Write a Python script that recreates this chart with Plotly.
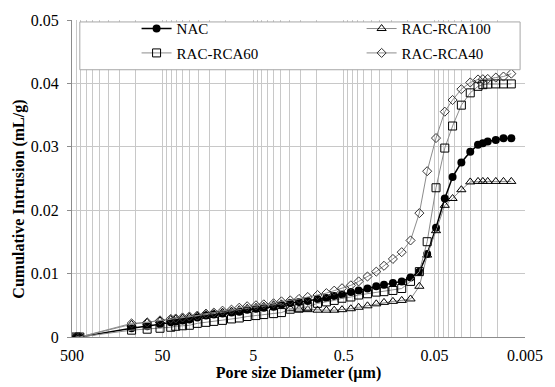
import math
import plotly.graph_objects as go

# Pore size diameter (µm)
diameter = [453, 410, 110, 74, 53.4, 40.6, 35.8, 30.1, 25.3, 20.7, 16.6, 13.6, 10.9, 8.68,
            7.12, 5.83, 4.66, 3.82, 2.98, 2.44, 1.95, 1.56, 1.25, 0.974, 0.778, 0.638, 0.523,
            0.418, 0.343, 0.274, 0.219, 0.180, 0.1435, 0.1147, 0.0917, 0.0733, 0.0601, 0.0480,
            0.0384, 0.0315, 0.0252, 0.0201, 0.0165, 0.0146, 0.0129, 0.0105, 0.00864, 0.00708]

nac = [0, 0, 0.00138, 0.00169, 0.00200, 0.00231, 0.00246, 0.00262, 0.00277, 0.00308, 0.00338,
       0.00354, 0.00369, 0.00385, 0.00400, 0.00431, 0.00446, 0.00462, 0.00477, 0.00508, 0.00538,
       0.00554, 0.00569, 0.00600, 0.00615, 0.00646, 0.00672, 0.00708, 0.00734, 0.00765, 0.00800,
       0.00826, 0.00851, 0.00877, 0.00938, 0.01031, 0.01308, 0.01723, 0.02185, 0.02523, 0.02754,
       0.02923, 0.03031, 0.03057, 0.03082, 0.03108, 0.03134, 0.03134]

rca100 = [0, 0, 0.00200, 0.00231, 0.00254, 0.00277, 0.00285, 0.00300, 0.00315, 0.00331, 0.00354,
          0.00369, 0.00392, 0.00408, 0.00431, 0.00454, 0.00469, 0.00485, 0.00508, 0.00523, 0.00446,
          0.00438, 0.00431, 0.00423, 0.00423, 0.00423, 0.00431, 0.00446, 0.00469, 0.00492, 0.00523,
          0.00546, 0.00562, 0.00577, 0.00600, 0.00800, 0.01292, 0.01677, 0.02077, 0.02185, 0.02323,
          0.02446, 0.02454, 0.02454, 0.02454, 0.02454, 0.02454, 0.02454]

rca60 = [0, 0, 0.00108, 0.00123, 0.00138, 0.00154, 0.00169, 0.00177, 0.00185, 0.00215, 0.00231,
         0.00246, 0.00262, 0.00285, 0.00300, 0.00323, 0.00338, 0.00354, 0.00369, 0.00385, 0.00438,
         0.00454, 0.00477, 0.00531, 0.00554, 0.00577, 0.00611, 0.00631, 0.00662, 0.00682, 0.00708,
         0.00715, 0.00734, 0.00765, 0.00877, 0.01031, 0.01503, 0.02354, 0.02980, 0.03328, 0.03657,
         0.03851, 0.03954, 0.03980, 0.03989, 0.03992, 0.03992, 0.03992]

rca40 = [0, 0, 0.00215, 0.00231, 0.00262, 0.00285, 0.00292, 0.00308, 0.00323, 0.00338, 0.00369,
         0.00385, 0.00415, 0.00431, 0.00462, 0.00485, 0.00500, 0.00515, 0.00531, 0.00562, 0.00577,
         0.00600, 0.00631, 0.00662, 0.00692, 0.00731, 0.00769, 0.00815, 0.00877, 0.00954, 0.01031,
         0.01123, 0.01231, 0.01338, 0.01523, 0.01954, 0.02615, 0.03138, 0.03554, 0.03738, 0.03908,
         0.04015, 0.04062, 0.04066, 0.04070, 0.04092, 0.04108, 0.04154]

x_major = [500, 50, 5, 0.5, 0.05, 0.005]
x_major_text = ["500", "50", "5", "0.5", "0.05", "0.005"]
y_ticks = [0, 0.01, 0.02, 0.03, 0.04, 0.05]
y_tick_text = ["0", "0.01", "0.02", "0.03", "0.04", "0.05"]

# gridlines: majors plus k * (major) for k = 2..9 inside each decade
x_grid, x_grid_text = [], []
for m, t in zip(x_major, x_major_text):
    x_grid.append(m)
    x_grid_text.append(t)
for m in x_major[1:]:
    for k in range(2, 10):
        x_grid.append(m * k)
        x_grid_text.append("")

FONT = "Liberation Serif, Times New Roman, serif"
GREY = "#8c8c8c"
GRID = "#c8c8c8"

fig = go.Figure()

fig.add_trace(go.Scatter(
    x=diameter, y=nac, name="NAC", mode="lines+markers",
    line=dict(color="black", width=1.5),
    marker=dict(symbol="circle", size=8, color="black"),
    legend="legend"))
fig.add_trace(go.Scatter(
    x=diameter, y=rca100, name="RAC-RCA100", mode="lines+markers",
    line=dict(color=GREY, width=1),
    marker=dict(symbol="triangle-up-open", size=8, color="black", line=dict(width=1)),
    legend="legend2"))
fig.add_trace(go.Scatter(
    x=diameter, y=rca60, name="RAC-RCA60", mode="lines+markers",
    line=dict(color=GREY, width=1),
    marker=dict(symbol="square-open", size=8, color="black", line=dict(width=1)),
    legend="legend3"))
fig.add_trace(go.Scatter(
    x=diameter, y=rca40, name="RAC-RCA40", mode="lines+markers",
    line=dict(color=GREY, width=1),
    marker=dict(symbol="diamond-open", size=7, color="#333333", line=dict(width=1)),
    legend="legend4"))

L, R, T, B = 72, 20, 12, 50
W, H = 555, 387
pw, ph = W - L - R, H - T - B


def px2x(px):
    return (px - L) / pw


def px2y(py):
    return (T + ph - py) / ph


# legend frame
fig.add_shape(type="rect", xref="paper", yref="paper",
              x0=px2x(80), x1=px2x(530), y0=px2y(63), y1=px2y(14),
              line=dict(color="#a6a6a6", width=1), fillcolor="white", layer="above")

leg_common = dict(bgcolor="rgba(0,0,0,0)", borderwidth=0, xanchor="left", yanchor="middle",
                  font=dict(family=FONT, size=15, color="black"), orientation="v")

fig.add_annotation(text="<b>Cumulative Intrusion (mL/g)</b>", xref="paper", yref="paper",
                   x=px2x(18), y=px2y(196), textangle=-90, showarrow=False,
                   xanchor="center", yanchor="middle",
                   font=dict(family=FONT, size=16, color="black"))

fig.update_layout(
    width=W, height=H,
    margin=dict(l=L, r=R, t=T, b=B),
    paper_bgcolor="white", plot_bgcolor="white",
    font=dict(family=FONT, size=16, color="black"),
    showlegend=True,
    legend=dict(x=px2x(138), y=px2y(21), **leg_common),
    legend2=dict(x=px2x(368), y=px2y(21), **leg_common),
    legend3=dict(x=px2x(138), y=px2y(46), **leg_common),
    legend4=dict(x=px2x(368), y=px2y(46), **leg_common),
    xaxis=dict(
        type="log", range=[math.log10(500), math.log10(0.005)],
        tickmode="array", tickvals=x_grid, ticktext=x_grid_text,
        ticks="", ticklabelstandoff=4,
        showgrid=True, gridcolor=GRID, gridwidth=1,
        showline=True, linecolor=GREY, linewidth=1,
        zeroline=False,
        tickfont=dict(family=FONT, size=16),
        title=dict(text="<b>Pore size Diameter (µm)</b>", font=dict(family=FONT, size=16),
                   standoff=0),
    ),
    yaxis=dict(
        range=[0, 0.05], tickmode="array",
        tickvals=y_ticks, ticktext=y_tick_text,
        ticks="outside", ticklen=4, tickcolor=GREY, ticklabelstandoff=5,
        showgrid=True, gridcolor=GRID, gridwidth=1,
        showline=True, linecolor=GREY, linewidth=1,
        zeroline=False,
        tickfont=dict(family=FONT, size=16),
    ),
)

fig.write_html("out.html")
